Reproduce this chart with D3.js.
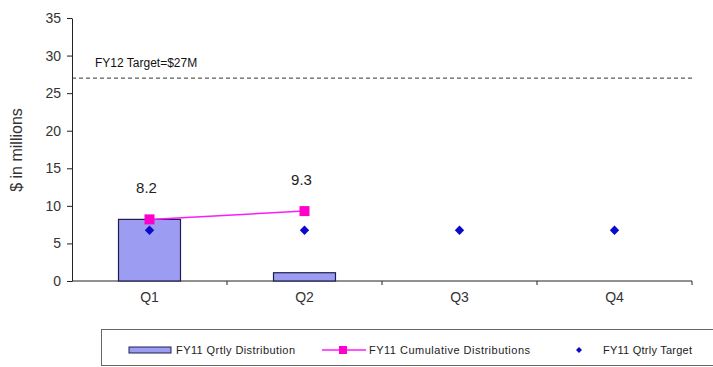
<!DOCTYPE html>
<html><head><meta charset="utf-8">
<script src="https://cdn.jsdelivr.net/npm/d3@7/dist/d3.min.js"></script>
<style>body{margin:0;background:#fff}svg{display:block;font-family:"Liberation Sans",Arial,sans-serif}</style>
</head><body><svg id="c" width="713" height="367"></svg>
<script>
const categories = ["Q1","Q2","Q3","Q4"];
const qtrlyDistribution = [8.2, 1.1, null, null];
const cumulativeDistributions = [8.2, 9.3, null, null];
const qtrlyTarget = [6.75, 6.75, 6.75, 6.75];
const fy12Target = 27;
const yTicks = [0,5,10,15,20,25,30,35];

const svg = d3.select("#c");
const x = d3.scaleBand().domain(categories).range([72, 692]);
const y = d3.scaleLinear().domain([0,35]).range([281, 18]);

// y axis
const ya = svg.append("g").attr("transform","translate(72,0)")
  .call(d3.axisLeft(y).tickValues(yTicks).tickSize(5).tickPadding(6).tickSizeOuter(0));
ya.select(".domain").attr("stroke","#222");
ya.selectAll(".tick line").attr("stroke","#222");
ya.selectAll("text").attr("font-size",14).attr("fill","#333").attr("font-family","Liberation Sans, Arial");

// x axis
const xa = svg.append("g").attr("transform","translate(0,281)");
xa.append("line").attr("x1",72).attr("x2",692).attr("stroke","#222");
const bounds = categories.map((c,i)=>x(c)).concat([x.range()[1]]);
xa.selectAll(".tk").data(bounds.slice(1)).join("line")
  .attr("x1",d=>d).attr("x2",d=>d).attr("y1",0).attr("y2",4).attr("stroke","#222");
xa.selectAll(".lb").data(categories).join("text")
  .attr("x",d=>x(d)+x.bandwidth()/2).attr("y",21).attr("text-anchor","middle")
  .attr("font-size",14).attr("fill","#333").text(d=>d);

// y title
svg.append("text").attr("transform","translate(22,150) rotate(-90)")
  .attr("text-anchor","middle").attr("font-size",16).attr("fill","#333").text("$ in millions");

// FY12 target line
svg.append("line").attr("x1",72).attr("x2",692).attr("y1",y(fy12Target)).attr("y2",y(fy12Target))
  .attr("stroke","#333").attr("stroke-dasharray","4,3");
svg.append("text").attr("x",95).attr("y",y(fy12Target)-11).attr("font-size",12).attr("fill","#111")
  .text("FY12 Target=$"+fy12Target+"M");

// bars
const bw = 62;
svg.selectAll(".bar").data(categories.map((c,i)=>({c,v:qtrlyDistribution[i]})).filter(d=>d.v!=null))
  .join("rect").attr("x",d=>x(d.c)+x.bandwidth()/2-bw/2).attr("width",bw)
  .attr("y",d=>y(d.v)).attr("height",d=>y(0)-y(d.v))
  .attr("fill","#9c9cf2").attr("stroke","#1e1e50").attr("stroke-width",1.2);

// cumulative line
const cum = categories.map((c,i)=>({c,v:cumulativeDistributions[i]})).filter(d=>d.v!=null);
svg.append("path").datum(cum)
  .attr("d", d3.line().x(d=>x(d.c)+x.bandwidth()/2).y(d=>y(d.v)))
  .attr("fill","none").attr("stroke","#ff1aff").attr("stroke-width",1.5);
svg.selectAll(".sq").data(cum).join("rect")
  .attr("x",d=>x(d.c)+x.bandwidth()/2-5).attr("y",d=>y(d.v)-5).attr("width",10).attr("height",10)
  .attr("fill","#ff00cc");
svg.selectAll(".dl").data(cum).join("text")
  .attr("x",d=>x(d.c)+x.bandwidth()/2-3).attr("y",d=>y(d.v)-26).attr("text-anchor","middle")
  .attr("font-size",15).attr("fill","#222").text(d=>d.v.toFixed(1));

// diamonds (rotated squares)
const sqSym = d3.symbol().type(d3.symbolSquare).size(44);
svg.selectAll(".dm").data(categories.map((c,i)=>({c,v:qtrlyTarget[i]})))
  .join("path").attr("d",sqSym)
  .attr("transform",d=>`translate(${x(d.c)+x.bandwidth()/2},${y(d.v)}) rotate(45)`).attr("fill","#0a0acc");

// legend
const lg = svg.append("g");
lg.append("rect").attr("x",101.5).attr("y",329.5).attr("width",640).attr("height",36)
  .attr("fill","#fff").attr("stroke","#666");
const ly = 350;
lg.append("rect").attr("x",129).attr("y",ly-3).attr("width",42).attr("height",6)
  .attr("fill","#9c9cf2").attr("stroke","#1e1e50");
lg.append("text").attr("x",176).attr("y",ly+4).attr("font-size",11).attr("fill","#222").attr("textLength",119).text("FY11 Qrtly Distribution");
lg.append("line").attr("x1",322).attr("x2",366).attr("y1",ly).attr("y2",ly).attr("stroke","#ff1aff").attr("stroke-width",1.5);
lg.append("rect").attr("x",339).attr("y",ly-4).attr("width",8).attr("height",8).attr("fill","#ff00cc");
lg.append("text").attr("x",369).attr("y",ly+4).attr("font-size",11).attr("fill","#222").attr("textLength",161).text("FY11 Cumulative Distributions");
lg.append("path").attr("d",d3.symbol().type(d3.symbolSquare).size(18)).attr("transform",`translate(579,${ly}) rotate(45)`).attr("fill","#0a0acc");
lg.append("text").attr("x",603).attr("y",ly+4).attr("font-size",11).attr("fill","#222").attr("textLength",89).text("FY11 Qtrly Target");
</script></body></html>
